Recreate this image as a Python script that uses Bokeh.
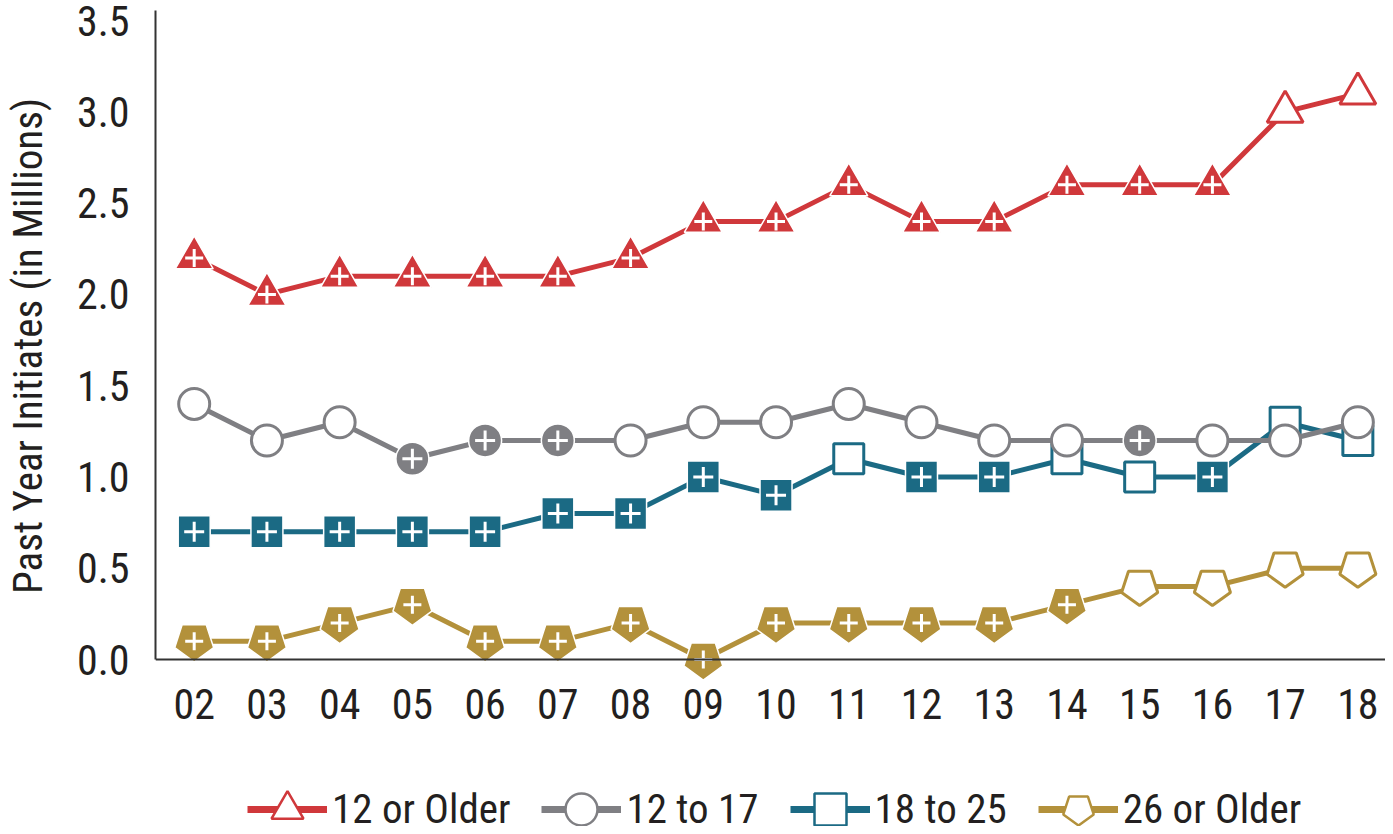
import numpy as np
from bokeh.plotting import figure
from bokeh.layouts import column
from bokeh.models import (Range1d, Legend, LegendItem, ColumnDataSource, FixedTicker,
                          PrintfTickFormatter, LinearAxis)
from bokeh.embed import file_html
from bokeh.resources import INLINE

years = ["02", "03", "04", "05", "06", "07", "08", "09", "10", "11", "12", "13", "14", "15", "16", "17", "18"]
older12 = [2.2, 2.0, 2.1, 2.1, 2.1, 2.1, 2.2, 2.4, 2.4, 2.6, 2.4, 2.4, 2.6, 2.6, 2.6, 3.0, 3.1]
sig_older12 = [1, 1, 1, 1, 1, 1, 1, 1, 1, 1, 1, 1, 1, 1, 1, 0, 0]
age12_17 = [1.4, 1.2, 1.3, 1.1, 1.2, 1.2, 1.2, 1.3, 1.3, 1.4, 1.3, 1.2, 1.2, 1.2, 1.2, 1.2, 1.3]
sig_12_17 = [0, 0, 0, 1, 1, 1, 0, 0, 0, 0, 0, 0, 0, 1, 0, 0, 0]
age18_25 = [0.7, 0.7, 0.7, 0.7, 0.7, 0.8, 0.8, 1.0, 0.9, 1.1, 1.0, 1.0, 1.1, 1.0, 1.0, 1.3, 1.2]
sig_18_25 = [1, 1, 1, 1, 1, 1, 1, 1, 1, 0, 1, 1, 0, 0, 1, 0, 0]
older26 = [0.1, 0.1, 0.2, 0.3, 0.1, 0.1, 0.2, 0.0, 0.2, 0.2, 0.2, 0.2, 0.3, 0.4, 0.4, 0.5, 0.5]
sig_26 = [1, 1, 1, 1, 1, 1, 1, 1, 1, 1, 1, 1, 1, 0, 0, 0, 0]
labels = ["12 or Older", "12 to 17", "18 to 25", "26 or Older"]
y_ticks = [0.0, 0.5, 1.0, 1.5, 2.0, 2.5, 3.0, 3.5]

RED = "#D0383B"
GRAY = "#7F7F83"
TEAL = "#1B6A84"
GOLD = "#B3913B"
TXT = "#231F20"
FONT = "Roboto Condensed"
PENT = np.pi

p = figure(width=1385, height=737, x_range=Range1d(-0.532, 16.38), y_range=Range1d(-0.12, 3.555),
           output_backend="svg", toolbar_location=None,
           min_border_left=145, min_border_right=0, min_border_top=10, min_border_bottom=56)
p.outline_line_color = None
p.grid.grid_line_color = None

xs = list(range(len(years)))

def split(vals, sig):
    f = ColumnDataSource(dict(x=[x for x, s in zip(xs, sig) if s], y=[v for v, s in zip(vals, sig) if s]))
    o = ColumnDataSource(dict(x=[x for x, s in zip(xs, sig) if not s], y=[v for v, s in zip(vals, sig) if not s]))
    return f, o

opens = {}

# 26 or Older (pentagons)
f, o = split(older26, sig_26)
opens["26"] = o
p.line(xs, older26, line_color=GOLD, line_width=5)
p.ngon(x="x", y="y", radius=20.5, radius_units="screen", n=5, angle=PENT,
       fill_color=GOLD, line_color="white", line_width=1.5, source=f)
p.scatter(x="x", y="y", marker="cross", size=18, line_color="white", line_width=3, source=f)
p.ngon(x="x", y="y", radius=19, radius_units="screen", n=5, angle=PENT,
       fill_color="white", line_color=GOLD, line_width=3, source=o)

# 18 to 25 (squares)
f, o = split(age18_25, sig_18_25)
opens["18"] = o
p.line(xs, age18_25, line_color=TEAL, line_width=5)
p.scatter(x="x", y="y", marker="square", size=32, fill_color=TEAL, line_color="white", line_width=1.5, source=f)
p.scatter(x="x", y="y", marker="cross", size=20, line_color="white", line_width=3, source=f)
p.scatter(x="x", y="y", marker="square", size=30, fill_color="white", line_color=TEAL, line_width=3, source=o)

# 12 to 17 (circles)
f, o = split(age12_17, sig_12_17)
opens["12_17"] = o
p.line(xs, age12_17, line_color=GRAY, line_width=5)
p.scatter(x="x", y="y", marker="circle", size=33, fill_color=GRAY, line_color="white", line_width=1.5, source=f)
p.scatter(x="x", y="y", marker="cross", size=20, line_color="white", line_width=3, source=f)
p.scatter(x="x", y="y", marker="circle", size=31, fill_color="white", line_color=GRAY, line_width=3, source=o)

# 12 or Older (triangles)
f, o = split(older12, sig_older12)
opens["12"] = o
p.line(xs, older12, line_color=RED, line_width=5)
p.scatter(x="x", y="y", marker="triangle", size=38, fill_color=RED, line_color="white", line_width=1.5, source=f)
p.scatter(x="x", y="y", marker="cross", size=18, line_color="white", line_width=3, source=f)
p.scatter(x="x", y="y", marker="triangle", size=36, fill_color="white", line_color=RED, line_width=3, source=o)

# x axis line at y = 0 (line only)
xline = p.xaxis[0]
xline.fixed_location = 0
xline.ticker = FixedTicker(ticks=[])
xline.axis_line_color = "#333333"
xline.axis_line_width = 2
xline.major_tick_line_color = None
xline.minor_tick_line_color = None

# x tick labels
xlab = LinearAxis(ticker=FixedTicker(ticks=xs),
                  major_label_overrides={i: y for i, y in enumerate(years)},
                  axis_line_color=None, major_tick_line_color=None, minor_tick_line_color=None,
                  major_label_standoff=1, major_label_text_font=FONT,
                  major_label_text_font_size="42px", major_label_text_color=TXT)
p.add_layout(xlab, "below")

ya = p.yaxis[0]
ya.axis_line_color = "#333333"
ya.axis_line_width = 2
ya.major_tick_line_color = None
ya.minor_tick_line_color = None
ya.major_label_text_font = FONT
ya.major_label_text_font_size = "42px"
ya.major_label_text_color = TXT
ya.bounds = (0, 3.555)
ya.ticker = FixedTicker(ticks=y_ticks)
ya.formatter = PrintfTickFormatter(format="%.1f")
ya.major_label_standoff = 20
ya.axis_label = "Past Year Initiates (in Millions)"
ya.axis_label_text_font = FONT
ya.axis_label_text_font_size = "41px"
ya.axis_label_text_font_style = "normal"
ya.axis_label_text_color = TXT
ya.axis_label_standoff = 22

# legend strip (proxies use the series data but sit outside this strip's visible range)
lf = figure(width=1385, height=89, x_range=Range1d(0, 1), y_range=Range1d(10, 11),
            output_backend="svg", toolbar_location=None, x_axis_location=None, y_axis_location=None,
            min_border=0, min_border_bottom=0, min_border_top=0)
lf.outline_line_color = None
lf.grid.grid_line_color = None
series = [older12, age12_17, age18_25, older26]
colors = [RED, GRAY, TEAL, GOLD]
open_src = [opens["12"], opens["12_17"], opens["18"], opens["26"]]
items = []
for i, (lab, col) in enumerate(zip(labels, colors)):
    ln = lf.line(xs, series[i], line_color=col, line_width=7)
    if i == 3:
        mk = lf.ngon(x="x", y="y", radius=17, radius_units="screen", n=5, angle=PENT,
                     fill_color="white", line_color=col, line_width=2.5, source=open_src[i])
    else:
        mk = lf.scatter(x="x", y="y", source=open_src[i], marker=["triangle", "circle", "square"][i],
                        fill_color="white", line_color=col, line_width=2.5)
    items.append(LegendItem(label=lab, renderers=[ln, mk]))
legend = Legend(items=items, orientation="horizontal", location=(92, -23),
                glyph_width=80, glyph_height=80, label_standoff=5, spacing=31, padding=0, margin=0,
                border_line_color=None, background_fill_alpha=0,
                label_text_font=FONT, label_text_font_size="41px", label_text_color=TXT)
lf.add_layout(legend, "center")

open("out.html", "w").write(file_html(column(p, lf), INLINE))
